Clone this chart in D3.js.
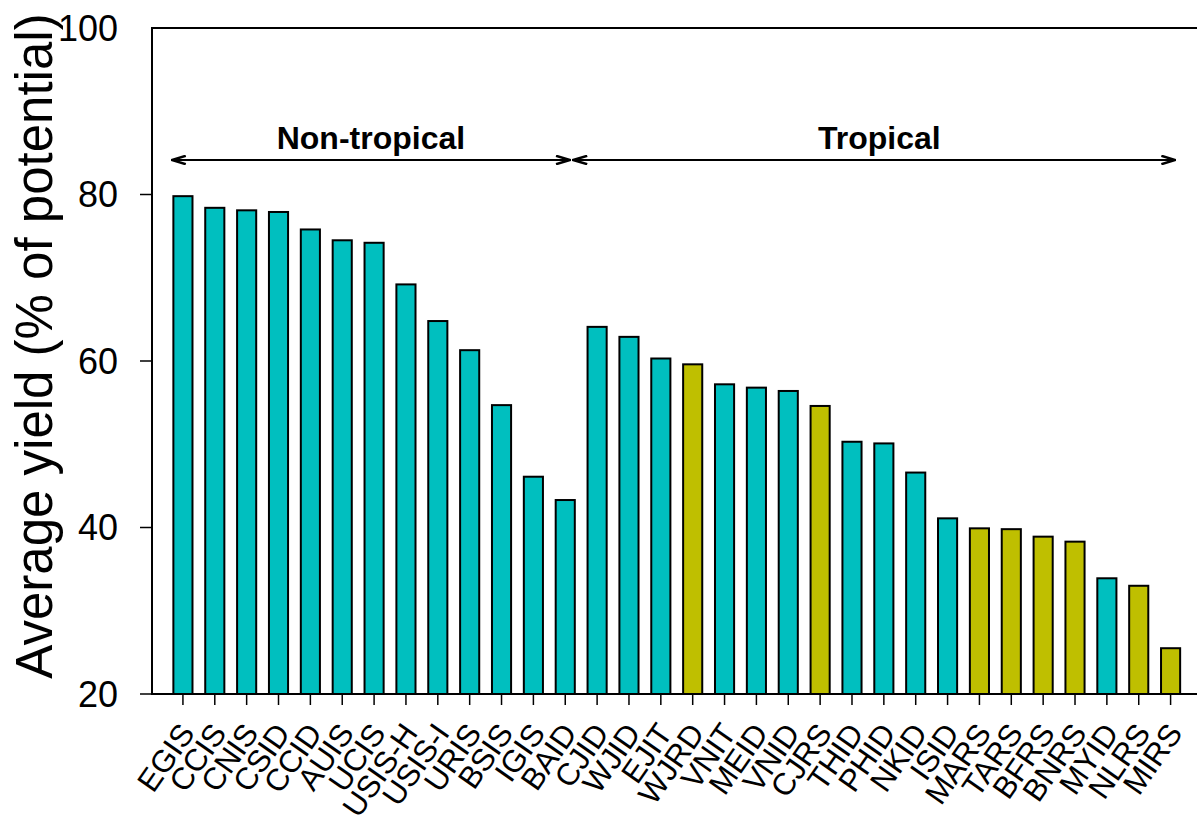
<!DOCTYPE html>
<html>
<head>
<meta charset="utf-8">
<script src="https://cdn.jsdelivr.net/npm/d3@7"></script>
<style>
  body { margin: 0; background: #fff; }
  svg { display: block; font-family: "Liberation Sans", Arial, sans-serif; }
</style>
</head>
<body>
<svg id="chart" width="1197" height="816"></svg>
<script>
// sites, sorted within each climate zone
const sites = ["EGIS", "CCIS", "CNIS", "CSID", "CCID", "AUIS", "UCIS", "USIS-H", "USIS-I", "URIS", "BSIS", "IGIS", "BAID",
  "CJID", "WJID", "EJIT", "WJRD", "VNIT", "MEID", "VNID", "CJRS", "THID", "PHID", "NKID", "ISID",
  "MARS", "TARS", "BFRS", "BNRS", "MYID", "NLRS", "MIRS"];
const yields = [79.8, 78.4, 78.1, 77.9, 75.8, 74.5, 74.2, 69.2, 64.8, 61.3, 54.7, 46.1, 43.3,
  64.1, 62.9, 60.3, 59.6, 57.2, 56.8, 56.4, 54.6, 50.3, 50.1, 46.6, 41.1,
  39.9, 39.8, 38.9, 38.3, 33.9, 33.0, 25.5];
// I = irrigated, R = rainfed
const regime = ["I", "I", "I", "I", "I", "I", "I", "I", "I", "I", "I", "I", "I",
  "I", "I", "I", "R", "I", "I", "I", "R", "I", "I", "I", "I",
  "R", "R", "R", "R", "I", "R", "R"];
const yTicks = [20, 40, 60, 80, 100];
const zoneNames = ["Non-tropical", "Tropical"];
const zoneFirst = ["EGIS", "CJID"];
const zoneLast = ["BAID", "MIRS"];

const svg = d3.select("#chart");
const W = 1197, H = 816;
const plotLeft = 152, plotTop = 28, plotBottom = 694;

const x = d3.scaleBand()
  .domain(sites)
  .range([167, 167 + sites.length * 31.86])
  .paddingInner(0.4)
  .paddingOuter(0.2);
const step = x.step();
const cx = d => x(d) + x.bandwidth() / 2;

const y = d3.scaleLinear().domain([20, 100]).range([plotBottom, plotTop]);

const colour = { I: "#00bfbf", R: "#bfbf00" };

// bars
svg.append("g").selectAll("rect")
  .data(sites)
  .join("rect")
  .attr("x", d => x(d))
  .attr("y", (d, i) => y(yields[i]))
  .attr("width", x.bandwidth())
  .attr("height", (d, i) => y(20) - y(yields[i]))
  .attr("fill", (d, i) => colour[regime[i]])
  .attr("stroke", "#000")
  .attr("stroke-width", 2);

// frame (left, top, bottom) - right side runs off the picture
svg.append("path")
  .attr("d", "M" + W + "," + plotTop + "H" + plotLeft + "V" + plotBottom + "H" + W)
  .attr("fill", "none")
  .attr("stroke", "#000")
  .attr("stroke-width", 2);

// y axis
const yAxis = svg.append("g");
yAxis.selectAll("line")
  .data(yTicks.filter(t => t < 100))
  .join("line")
  .attr("x1", plotLeft - 12).attr("x2", plotLeft)
  .attr("y1", d => y(d)).attr("y2", d => y(d))
  .attr("stroke", "#000").attr("stroke-width", 1.5);
yAxis.selectAll("text")
  .data(yTicks)
  .join("text")
  .attr("x", 118)
  .attr("y", d => y(d))
  .attr("dy", "0.35em")
  .attr("text-anchor", "end")
  .attr("font-size", 36)
  .text(d => d);

svg.append("text")
  .attr("transform", "translate(52,346) rotate(-90)")
  .attr("text-anchor", "middle")
  .attr("font-size", 51)
  .text("Average yield (% of potential)");

// x axis ticks and labels
const xAxis = svg.append("g");
xAxis.selectAll("line")
  .data(sites)
  .join("line")
  .attr("x1", cx).attr("x2", cx)
  .attr("y1", plotBottom).attr("y2", plotBottom + 11)
  .attr("stroke", "#000").attr("stroke-width", 1.5);
xAxis.selectAll("text")
  .data(sites)
  .join("text")
  .attr("transform", d => "translate(" + (cx(d) + 4) + "," + 727 + ") rotate(-55)")
  .attr("dy", "0.35em")
  .attr("text-anchor", "end")
  .attr("font-size", 31)
  .text(d => d);

// zone arrows
const defs = svg.append("defs");
defs.append("marker")
  .attr("id", "head")
  .attr("viewBox", "0 0 16 10")
  .attr("refX", 15).attr("refY", 5)
  .attr("markerWidth", 16).attr("markerHeight", 10)
  .attr("markerUnits", "userSpaceOnUse")
  .attr("orient", "auto-start-reverse")
  .append("path")
  .attr("d", "M1,0.8 L15,5 L1,9.2")
  .attr("fill", "none")
  .attr("stroke", "#000")
  .attr("stroke-width", 2.5);

const arrowY = 160;
const zones = svg.append("g");
zoneNames.forEach((name, i) => {
  const x0 = i === 0 ? cx(zoneFirst[i]) - 0.35 * step : cx(zoneFirst[i]) - 0.75 * step;
  const x1 = cx(zoneLast[i]) + 0.15 * step;
  zones.append("line")
    .attr("x1", x0).attr("x2", x1)
    .attr("y1", arrowY).attr("y2", arrowY)
    .attr("stroke", "#000")
    .attr("stroke-width", 2)
    .attr("marker-start", "url(#head)")
    .attr("marker-end", "url(#head)");
  zones.append("text")
    .attr("x", (x0 + x1) / 2 + (i === 1 ? 5 : 0))
    .attr("y", 149)
    .attr("text-anchor", "middle")
    .attr("font-size", 32)
    .attr("font-weight", "bold")
    .text(name);
});
</script>
</body>
</html>
